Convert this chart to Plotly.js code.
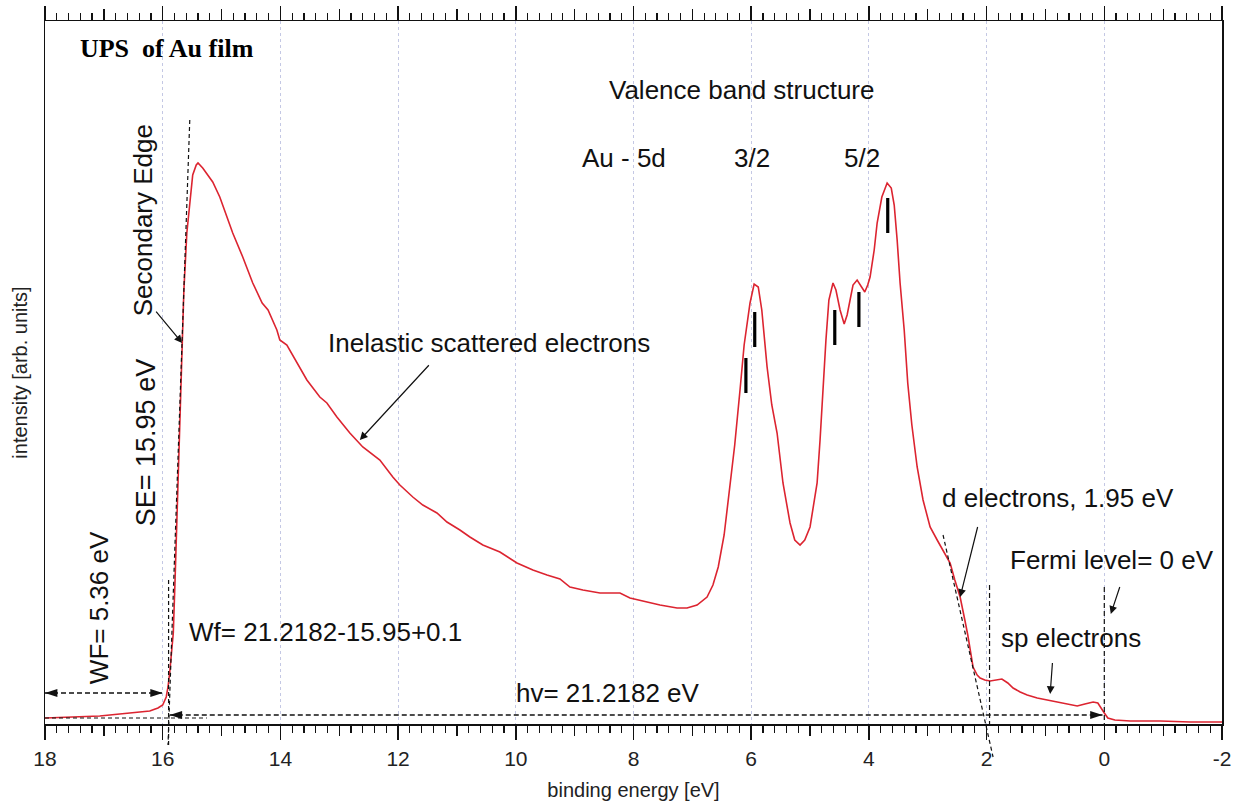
<!DOCTYPE html>
<html>
<head>
<meta charset="utf-8">
<script src="https://cdn.plot.ly/plotly-3.0.1.min.js"></script>
<style>html,body{margin:0;padding:0;background:#fff;}#chart{width:1236px;height:804px;}</style>
</head>
<body>
<div id="chart"></div>
<script>
// ---- spectrum (binding energy [eV], intensity [arb. units]) ----
const energy = [18.00,17.58,17.07,16.56,16.22,16.08,16.00,15.94,15.91,15.88,15.84,15.82,15.79,15.76,15.71,15.67,15.64,15.59,15.54,15.49,15.43,15.40,15.32,15.23,15.15,15.03,14.91,14.81,14.64,14.47,14.31,14.21,14.06,14.01,13.89,13.72,13.55,13.33,13.21,13.04,12.82,12.60,12.31,12.09,11.97,11.75,11.58,11.34,11.17,10.95,10.78,10.56,10.27,9.98,9.71,9.47,9.25,9.08,8.86,8.57,8.23,8.06,7.77,7.55,7.26,7.09,6.92,6.75,6.65,6.56,6.46,6.36,6.28,6.19,6.12,6.02,5.95,5.88,5.82,5.73,5.65,5.56,5.46,5.34,5.26,5.17,5.09,5.00,4.88,4.83,4.78,4.73,4.68,4.61,4.56,4.49,4.42,4.37,4.32,4.27,4.20,4.13,4.07,4.02,3.98,3.91,3.86,3.78,3.69,3.62,3.57,3.52,3.47,3.40,3.34,3.27,3.18,3.08,2.96,2.84,2.74,2.62,2.54,2.45,2.37,2.32,2.23,2.16,2.11,2.03,1.94,1.84,1.74,1.64,1.55,1.43,1.31,1.14,0.97,0.75,0.46,0.33,0.19,0.11,0.06,0.00,-0.06,-0.18,-0.44,-0.95,-1.46,-2.00];
const intensity = [6,7,8,11,13,16,19,27,37,52,74,91,144,204,304,381,434,491,524,549,559,561,556,548,542,527,507,491,467,441,421,414,394,384,379,361,344,327,321,307,291,277,264,247,239,227,219,211,202,194,187,179,172,161,154,149,145,137,134,131,131,126,122,119,116,116,119,127,139,157,189,236,279,334,379,421,440,437,414,357,319,291,241,201,184,179,184,197,241,284,341,384,424,441,434,414,400,409,424,439,444,437,432,439,447,474,501,527,541,536,519,484,441,394,341,299,257,224,197,184,174,161,144,127,104,89,57,49,46,44,43,44,45,41,36,32,29,26,24,21,18,20,22,21,17,11,6,4,3,3,2,2];

// ---- peak component markers ----
const markE  = [6.09, 5.94, 4.58, 4.17, 3.68];
const markLo = [331, 377, 379, 397, 491];
const markHi = [366, 412, 414, 432, 526];

// ---- key energies ----
const hv = 21.2182, SE = 15.95, WF = 5.36, dEdge = 1.95, EF = 0;

// ---- axis ----
const xRange = [18, -2];
const yMax = 703;
const majorTicks = [18,16,14,12,10,8,6,4,2,0,-2];
const majorText  = ['18','16','14','12','10','8','6','4','2','0','-2'];
const midTicks   = [17,15,13,11,9,7,5,3,1,-1];

const FONT = 'Liberation Sans, Arial, sans-serif';
const RED = '#dc2430';

// build marker segments
const segX = [], segY = [];
markE.forEach((e, i) => { segX.push(e, e, null); segY.push(markLo[i], markHi[i], null); });

const traces = [
  {x: energy, y: intensity, type: 'scatter', mode: 'lines',
   line: {color: RED, width: 1.6}, name: 'UPS', showlegend: false, hoverinfo: 'x+y'},
  {x: segX, y: segY, type: 'scatter', mode: 'lines',
   line: {color: '#000', width: 3.2}, showlegend: false, hoverinfo: 'skip'},
  // WF double arrow
  {x: [18.0, 16.0], y: [31, 31], type: 'scatter', mode: 'lines',
   line: {color: '#111', width: 1.3, dash: '5px,3px'}, showlegend: false, hoverinfo: 'skip'},
  {x: [18.0, 16.0], y: [31, 31], type: 'scatter', mode: 'markers', cliponaxis: false,
   marker: {symbol: 'arrow', size: 13, angle: [-90, 90], color: '#111', line: {width: 0}},
   showlegend: false, hoverinfo: 'skip'},
  // hv double arrow
  {x: [15.88, 0.03], y: [9, 9], type: 'scatter', mode: 'lines',
   line: {color: '#111', width: 1.3, dash: '5px,3px'}, showlegend: false, hoverinfo: 'skip'},
  {x: [15.88, 0.03], y: [9, 9], type: 'scatter', mode: 'markers', cliponaxis: false,
   marker: {symbol: 'arrow', size: 13, angle: [-90, 90], color: '#111', line: {width: 0}},
   showlegend: false, hoverinfo: 'skip'},
  // dummy trace for the mid-tick overlay axis
  {x: [null], y: [null], xaxis: 'x2', type: 'scatter', mode: 'markers', showlegend: false, hoverinfo: 'skip'}
];

const P = v => v / yMax; // data y -> paper y
const dashLine = {color: '#111', width: 1.2, dash: '4px,3px'};
const shapes = [
  // secondary edge tangent
  {type: 'line', xref: 'x', yref: 'paper', x0: 15.54, y0: P(604), x1: 15.91, y1: P(-21), line: dashLine},
  // vertical at secondary edge
  {type: 'line', xref: 'x', yref: 'paper', x0: 15.90, y0: P(144), x1: 15.90, y1: P(-21), line: dashLine},
  // background baseline
  {type: 'line', xref: 'x', yref: 'paper', x0: 18, y0: P(6), x1: 15.25, y1: P(6), line: dashLine},
  // d-band edge tangent
  {type: 'line', xref: 'x', yref: 'paper', x0: 2.74, y0: P(189), x1: 1.89, y1: P(-33), line: dashLine},
  // d edge vertical
  {type: 'line', xref: 'x', yref: 'paper', x0: dEdge, y0: P(139), x1: dEdge, y1: P(0), line: {color: '#111', width: 1.2, dash: '5px,3px'}},
  // Fermi level vertical
  {type: 'line', xref: 'x', yref: 'paper', x0: EF, y0: P(137), x1: EF, y1: P(0), line: {color: '#111', width: 1.2, dash: '5px,3px'}}
];

const txt = (text, x, y, opts) => Object.assign({
  text, x, y, xref: 'x', yref: 'y', showarrow: false,
  font: {family: FONT, size: 26, color: '#111'}, xanchor: 'center', yanchor: 'middle'
}, opts || {});
const arrow = (x, y, ax, ay) => ({
  text: ' ', x, y, ax, ay, xref: 'x', yref: 'y', showarrow: true,
  arrowhead: 2, arrowsize: 1.3, arrowwidth: 1.2, arrowcolor: '#111', standoff: 0, startstandoff: 0
});

const annotations = [
  txt('Valence band structure', 6.17, 634),
  txt('Au - 5d', 8.16, 566),
  txt('3/2', 5.99, 566),
  txt('5/2', 4.12, 566),
  txt('Secondary Edge', 16.33, 504, {textangle: -90}),
  txt('SE= ' + SE.toFixed(2) + ' eV', 16.28, 281, {textangle: -90, font: {family: FONT, size: 27, color: '#111'}}),
  txt('Inelastic scattered electrons', 10.46, 381),
  txt('WF= ' + WF.toFixed(2) + ' eV', 17.08, 116, {textangle: -90}),
  txt('Wf= ' + hv + '-' + SE.toFixed(2) + '+0.1', 15.59, 92, {xanchor: 'left'}),
  txt('hv= ' + hv + ' eV', 8.43, 31),
  txt('d electrons, ' + dEdge.toFixed(2) + ' eV', 0.79, 226),
  txt('Fermi level= ' + EF + ' eV', -0.13, 164),
  txt('sp electrons', 0.57, 86),
  arrow(15.67, 381, -29, -35),
  arrow(12.65, 284, 72, -78),
  arrow(2.45, 127, 20, -80),
  arrow(-0.11, 110, 12, -36),
  arrow(0.92, 30, 3, -41)
];

const layout = {
  width: 1236, height: 804,
  margin: {l: 45, r: 14, t: 21, b: 80, pad: 0},
  paper_bgcolor: '#fff', plot_bgcolor: '#fff',
  showlegend: false,
  title: {
    text: '<b>UPS\u00a0\u00a0of Au film</b>',
    font: {family: 'Liberation Serif, Times New Roman, serif', size: 26, color: '#000'},
    xref: 'paper', x: 0.0297, xanchor: 'left',
    yref: 'container', y: 1 - 48 / 804, yanchor: 'middle'
  },
  xaxis: {
    range: xRange, autorange: false,
    tickvals: majorTicks, ticktext: majorText,
    ticks: 'outside', ticklen: 14, tickwidth: 1.5, tickcolor: '#111',
    ticklabelstandoff: 1,
    tickfont: {family: FONT, size: 21, color: '#222'},
    minor: {dtick: 0.2, tick0: 0, ticks: 'outside', ticklen: 7, tickwidth: 1.2, tickcolor: '#111', showgrid: false},
    showline: true, linecolor: '#111', linewidth: 1.5, mirror: 'ticks',
    showgrid: true, gridcolor: '#c4c8e4', griddash: 'dot', gridwidth: 1,
    zeroline: false,
    title: {text: 'binding energy [eV]', font: {family: FONT, size: 20, color: '#222'}, standoff: 14}
  },
  xaxis2: {
    overlaying: 'x', anchor: 'y', side: 'bottom',
    range: xRange, autorange: false,
    tickvals: midTicks, ticks: 'outside', ticklen: 11, tickwidth: 1.3, tickcolor: '#111',
    showticklabels: false, showline: false, mirror: 'ticks', showgrid: false, zeroline: false
  },
  yaxis: {
    range: [0, yMax], autorange: false,
    showline: true, linecolor: '#111', linewidth: 1.5, mirror: true,
    ticks: '', showticklabels: false, showgrid: false, zeroline: false,
    title: {text: 'intensity [arb. units]', font: {family: FONT, size: 20, color: '#222'}, standoff: 10}
  },
  shapes, annotations
};

Plotly.newPlot('chart', traces, layout, {displayModeBar: false, staticPlot: true});
</script>
</body>
</html>
